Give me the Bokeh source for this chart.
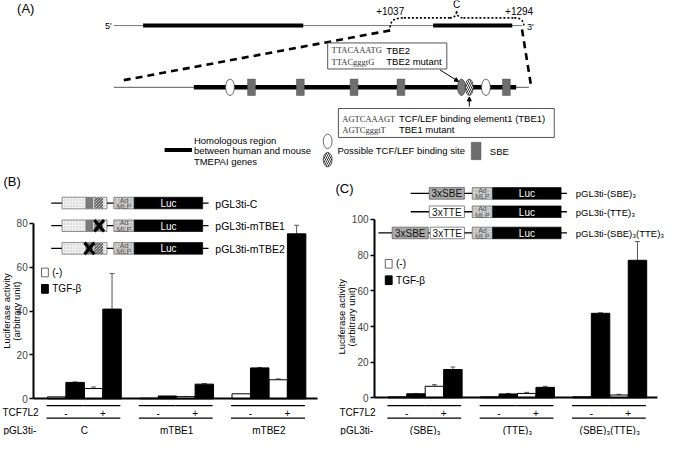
import math
from bokeh.plotting import figure
from bokeh.models import Range1d, LinearAxis, FixedTicker, Arrow, NormalHead
from bokeh.core.properties import value
from bokeh.embed import file_html
from bokeh.resources import INLINE

# ---------------- data ----------------
groups_B = ["C", "mTBE1", "mTBE2"]
groups_C = ["(SBE)₃", "(TTE)₃", "(SBE)₃(TTE)₃"]
tcf7l2 = ["-", "+"]
treatments = ["(-)", "TGF-β"]
ticks_B = [0, 20, 40, 60, 80]
ticks_C = [0, 20, 40, 60, 80, 100]

# order: group-major, then TCF7L2 (-, +)
B_ctrl = [0.9, 4.7, 0.3, 1.0, 2.3, 8.7]
B_ctrl_err = [0.0, 0.7, 0.0, 0.1, 0.0, 0.4]
B_tgf = [7.5, 40.9, 1.3, 6.7, 14.1, 75.2]
B_tgf_err = [0.2, 16.2, 0.0, 0.3, 0.2, 3.9]
C_ctrl = [0.6, 6.5, 0.6, 2.5, 0.6, 1.6]
C_ctrl_err = [0.0, 0.9, 0.0, 0.6, 0.0, 0.4]
C_tgf = [2.3, 15.9, 2.2, 5.9, 47.4, 77.1]
C_tgf_err = [0.1, 1.4, 0.3, 0.6, 0.3, 10.5]

constructs_B = ["pGL3ti-C", "pGL3ti-mTBE1", "pGL3ti-mTBE2"]
constructs_C = ["pGL3ti-(SBE)₃", "pGL3ti-(TTE)₃", "pGL3ti-(SBE)₃(TTE)₃"]

# ---------------- figure (reference-pixel canvas) ----------------
REF_W, REF_H = 685, 451
FONT = "Liberation Sans"
SERIF = "Liberation Serif"

p = figure(width=669, height=435, x_range=Range1d(0, REF_W), y_range=Range1d(REF_H, 0),
           output_backend="svg", toolbar_location=None, x_axis_location=None,
           y_axis_location=None, min_border=0, outline_line_color=None)
p.grid.visible = False


def lin(v0, r0, v1, r1, ra, rb):
    s = (v1 - v0) / (r1 - r0)
    return Range1d(v0 + (ra - r0) * s, v0 + (rb - r0) * s)


# bar index u -> reference x
p.extra_x_ranges = {
    "xB": lin(0, 57.5, 1, 76.4, 0, REF_W),
    "xC": lin(0, 406.5, 1, 425.4, 0, REF_W),
}
p.extra_y_ranges = {
    "yB": lin(0, 413, 80, 231, REF_H, 0),
    "yC": lin(0, 412, 100, 227, REF_H, 0),
}


def T(x, y, s, size=10, align="left", baseline="middle", color="black", font=FONT, angle=0.0, **kw):
    p.text(x=[x], y=[y], text=[s], text_font=value(font), text_font_size=f"{size}px",
           text_align=align, text_baseline=baseline, text_color=color, angle=angle, **kw)


def box(l, r, t, b, **kw):
    p.quad(left=[l], right=[r], top=[t], bottom=[b], **kw)


def seg(x0, y0, x1, y1, **kw):
    p.segment(x0=[x0], y0=[y0], x1=[x1], y1=[y1], **kw)


HATCH_EL = dict(fill_color="white", line_color="#333333", line_width=0.8,
                hatch_pattern="left_diagonal_line", hatch_color="#333333", hatch_scale=4, hatch_weight=1)

# ---------------- panel A ----------------
T(17, 8, "(A)", 13)
T(114, 26, "5'", 9, "right")
T(539, 27, "3'", 9)
seg(116, 26, 534, 26, line_color="#777777", line_width=1)
seg(146, 26, 310, 26, line_color="black", line_width=4)
seg(443, 26, 524, 26, line_color="black", line_width=4)
T(399, 11, "+1037", 10, "center")
T(467, 4, "C", 10, "center")
T(531, 11, "+1294", 10, "center")
dot = dict(line_color="black", line_width=1.6, line_dash="2 2")
p.bezier(x0=[399], y0=[28], x1=[413], y1=[18], cx0=[399], cy0=[20], cx1=[405], cy1=[18], **dot)
seg(413, 18, 460, 18, **dot)
p.bezier(x0=[460], y0=[18], x1=[467], y1=[11], cx0=[465], cy0=[18], cx1=[467], cy1=[15], **dot)
p.bezier(x0=[467], y0=[11], x1=[474], y1=[18], cx0=[467], cy0=[15], cx1=[469], cy1=[18], **dot)
seg(474, 18, 526, 18, **dot)
p.bezier(x0=[526], y0=[18], x1=[536], y1=[28], cx0=[533], cy0=[18], cx1=[536], cy1=[21], **dot)
dash = dict(line_color="black", line_width=2.6, line_dash="7 5")
seg(399, 31, 124, 83, **dash)
seg(534, 30, 543, 87, **dash)

# lower (zoomed) line
seg(116, 90, 541, 90, line_color="#777777", line_width=1.2)
seg(198, 90, 528, 90, line_color="black", line_width=4.5)
for xe in [257, 307, 362, 410, 518]:
    box(xe - 4, xe + 4, 81.5, 98.5, fill_color="#6e6e6e", line_color="#555555", line_width=0.5)
for xe in [235, 497]:
    p.ellipse(x=[xe], y=[90], width=9, height=17, fill_color="white", line_color="#444444", line_width=0.8)
p.ellipse(x=[472], y=[90], width=8, height=17, fill_color="#7a7a7a", line_color="#444444", line_width=0.8)
p.ellipse(x=[480], y=[90], width=8, height=17, **HATCH_EL)

# TBE2 box
box(335, 457, 44, 71, fill_color="white", line_color="#555555", line_width=1)
T(339, 51.5, "TTACAAATG", 8.5, font=SERIF, color="#333333")
T(395, 51.5, "TBE2", 9.5)
T(339, 63.5, "TTACgggtG", 8.5, font=SERIF, color="#333333")
T(395, 63.5, "TBE2 mutant", 9.5)
p.add_layout(Arrow(end=NormalHead(size=4, fill_color="black", line_color="black"),
                   x_start=450, y_start=72, x_end=469, y_end=84, line_width=1))
# TBE1 box
box(346, 567, 112, 142, fill_color="white", line_color="#555555", line_width=1)
T(350, 122.5, "AGTCAAAGT", 8.5, font=SERIF, color="#333333")
T(408, 122.5, "TCF/LEF binding element1 (TBE1)", 9.5)
T(350, 134, "AGTCgggtT", 8.5, font=SERIF, color="#333333")
T(408, 134, "TBE1 mutant", 9.5)
p.add_layout(Arrow(end=NormalHead(size=4, fill_color="black", line_color="black"),
                   x_start=480, y_start=110, x_end=480, y_end=100, line_width=1))

# panel A legend
seg(168, 155, 196, 155, line_color="black", line_width=4)
T(198, 145, "Homologous region", 9.5)
T(198, 156, "between human and mouse", 9.5)
T(198, 167, "TMEPAI genes", 9.5)
p.ellipse(x=[335], y=[146], width=9, height=15, fill_color="white", line_color="#444444", line_width=0.8)
p.ellipse(x=[335], y=[165], width=9, height=15, **HATCH_EL)
T(345, 155, "Possible TCF/LEF binding site", 9.5)
box(482, 492, 147, 165, fill_color="#6e6e6e", line_color="#555555", line_width=0.5)
T(501, 157, "SBE", 9.5)


# ---------------- construct helpers ----------------
def admlp_luc(y, x0, label, label_x, label_size):
    h = 6
    box(x0, x0 + 21, y - h, y + h, fill_color="#e4e4e4", line_color="#666666", line_width=0.7,
        hatch_pattern="right_diagonal_line", hatch_color="#a0a0a0", hatch_scale=3, hatch_weight=0.8)
    T(x0 + 10.5, y - 3, "Ad", 7, "center", color="#555555")
    T(x0 + 10.5, y + 3.5, "MLP", 7, "center", color="#555555")
    box(x0 + 21, x0 + 91, y - h, y + h, fill_color="black", line_color="black", line_width=0.7)
    T(x0 + 56, y + 0.5, "Luc", 10, "center", color="white")
    seg(x0 + 91, y, x0 + 97, y, line_color="black", line_width=1.3)
    T(label_x, y + 0.5, label, label_size)


# panel B constructs
rows_B = [210, 233.5, 257]
for i, (yy, lab) in enumerate(zip(rows_B, constructs_B)):
    h = 6
    seg(52, yy, 63, yy, line_color="black", line_width=1.3)
    box(63, 109, yy - h, yy + h, fill_color="#f1f1f1", line_color="#666666", line_width=0.7,
        hatch_pattern="dot", hatch_color="#bdbdbd", hatch_scale=3, hatch_weight=1)
    box(87, 95, yy - h, yy + h, fill_color="#7a7a7a", line_color=None)
    box(96, 105, yy - h, yy + h, fill_color="white", line_color=None,
        hatch_pattern="left_diagonal_line", hatch_color="#333333", hatch_scale=3, hatch_weight=1)
    seg(109, yy, 116, yy, line_color="black", line_width=1.3)
    admlp_luc(yy, 116, lab, 220, 10.5)
    if i > 0:
        cx = 101 if i == 1 else 91
        seg(cx - 5, yy - 6, cx + 5, yy + 6, line_color="black", line_width=3.2)
        seg(cx - 5, yy + 6, cx + 5, yy - 6, line_color="black", line_width=3.2)

T(3, 188, "(B)", 13)
T(343, 195, "(C)", 13)

# panel C constructs
rows_C = [200, 219, 241]
for i, (yy, lab) in enumerate(zip(rows_C, constructs_C)):
    h = 6
    if i == 2:
        seg(387, yy, 401, yy, line_color="black", line_width=1.3)
        box(401, 438, yy - h, yy + h, fill_color="#a9a9a9", line_color="#555555", line_width=0.7)
        T(419.5, yy + 0.5, "3xSBE", 10, "center", color="#111111")
        seg(438, yy, 440, yy, line_color="black", line_width=1.3)
        box(440, 475, yy - h, yy + h, fill_color="white", line_color="#555555", line_width=0.7)
        T(457.5, yy + 0.5, "3xTTE", 10, "center", color="#111111")
    else:
        seg(420, yy, 439, yy, line_color="black", line_width=1.3)
        box(439, 475, yy - h, yy + h, fill_color="#a9a9a9" if i == 0 else "white",
            line_color="#555555", line_width=0.7)
        T(457, yy + 0.5, "3xSBE" if i == 0 else "3xTTE", 10, "center", color="#111111")
    seg(475, yy, 483, yy, line_color="black", line_width=1.3)
    admlp_luc(yy, 483, lab, 589, 9.5)


# ---------------- bar charts ----------------
def bar_panel(xr, yr, ctrl, ctrl_err, tgf, tgf_err, groups, ticks, axis_x, base_end,
              ylab_x, ylab_y, leg_x, leg_y, side_x):
    u_ctrl = [5 * g + 2 * t for g in range(len(groups)) for t in range(len(tcf7l2))]
    u_tgf = [u + 1 for u in u_ctrl]
    # error bars (upward only)
    for us, vals, errs in [(u_ctrl, ctrl, ctrl_err), (u_tgf, tgf, tgf_err)]:
        xs = [u for u, e in zip(us, errs) if e > 0]
        y0 = [v for v, e in zip(vals, errs) if e > 0]
        y1 = [v + e for v, e in zip(vals, errs) if e > 0]
        p.segment(x0=xs, y0=y0, x1=xs, y1=y1, line_color="#555555", line_width=1,
                  x_range_name=xr, y_range_name=yr)
        p.segment(x0=[x - 0.13 for x in xs], y0=y1, x1=[x + 0.13 for x in xs], y1=y1,
                  line_color="#555555", line_width=1, x_range_name=xr, y_range_name=yr)
    p.vbar(x=u_ctrl, top=ctrl, bottom=0, width=1, fill_color="white", line_color="black",
           line_width=1, x_range_name=xr, y_range_name=yr)
    p.vbar(x=u_tgf, top=tgf, bottom=0, width=1, fill_color="black", line_color="black",
           line_width=1, x_range_name=xr, y_range_name=yr)

    ax = LinearAxis(y_range_name=yr, fixed_location=axis_x, bounds=(ticks[0], ticks[-1]),
                    ticker=FixedTicker(ticks=ticks), axis_line_width=2, major_tick_line_width=1.5,
                    major_tick_out=4, major_tick_in=0, minor_tick_line_color=None,
                    major_label_text_font=FONT, major_label_text_font_size="10px",
                    major_label_standoff=2)
    p.add_layout(ax, "left")
    bx = LinearAxis(y_range_name=yr, fixed_location=0, bounds=(axis_x, base_end),
                    ticker=FixedTicker(ticks=[]), axis_line_width=2, major_tick_line_color=None,
                    minor_tick_line_color=None, major_label_text_font_size="0px")
    p.add_layout(bx, "below")

    T(ylab_x, ylab_y, "Luciferase activity", 9.5, "center", angle=math.pi / 2)
    T(ylab_x + 10, ylab_y, "(arbitrary unit)", 9.5, "center", angle=math.pi / 2)

    # legend
    box(leg_x, leg_x + 7, leg_y - 4.5, leg_y + 4.5, fill_color="white", line_color="#444444", line_width=0.8)
    T(leg_x + 11, leg_y, treatments[0], 10)
    box(leg_x, leg_x + 7, leg_y + 12.5, leg_y + 21.5, fill_color="black", line_color="black")
    T(leg_x + 11, leg_y + 17, treatments[1], 10)

    # category rows
    lw = dict(line_color="black", line_width=1.4, x_range_name=xr)
    for g, name in enumerate(groups):
        for t, sign in enumerate(tcf7l2):
            u0 = 5 * g + 2 * t
            p.segment(x0=[u0 - 0.55], y0=[420], x1=[u0 + 1.45], y1=[420], **lw)
            p.text(x=[u0 + 0.5], y=[428], text=[sign], text_font=value(FONT), text_font_size="10px",
                   text_align="center", text_baseline="middle", x_range_name=xr)
        p.segment(x0=[5 * g - 0.55], y0=[433], x1=[5 * g + 3.45], y1=[433], **lw)
        p.text(x=[5 * g + 1.5], y=[446], text=[name], text_font=value(FONT), text_font_size="10px",
               text_align="center", text_baseline="middle", x_range_name=xr)
    T(side_x, 427, "TCF7L2", 10)
    T(side_x + 1, 446, "pGL3ti-", 10)


bar_panel("xB", "yB", B_ctrl, B_ctrl_err, B_tgf, B_tgf_err, groups_B, ticks_B, 34, 325,
          6, 322, 42, 282, 2)
bar_panel("xC", "yC", C_ctrl, C_ctrl_err, C_tgf, C_tgf_err, groups_C, ticks_C, 383, 673,
          349, 328, 394, 273, 347)

open("out.html", "w").write(file_html(p, INLINE))
